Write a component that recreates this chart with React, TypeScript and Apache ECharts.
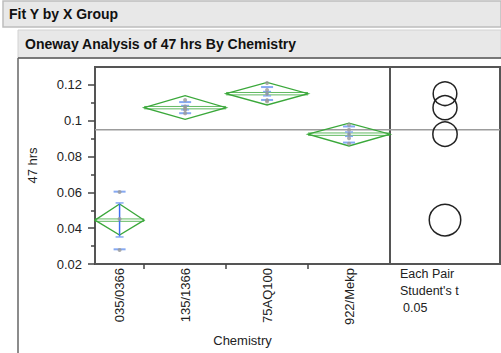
import React, { useEffect, useRef } from 'react';
import * as echarts from 'echarts';

// ---- data ----
const categories = ['035/0366', '135/1366', '75AQ100', '922/Mekp'];
const groupCounts = [3, 5, 5, 5];
const means = [0.0445, 0.1073, 0.1151, 0.0925];
const ciLower = [0.0362, 0.1008, 0.1088, 0.0859];
const ciUpper = [0.0535, 0.1140, 0.1214, 0.0986];
const seLower = [0.0351, 0.1061, 0.1139, 0.0913];
const seUpper = [0.0541, 0.1085, 0.1163, 0.0937];
const sdLower = [0.0282, 0.1042, 0.1116, 0.0878];
const sdUpper = [0.0604, 0.1104, 0.1188, 0.0968];
const points = [
  [0.0602, 0.0451, 0.0278],
  [0.1116, 0.108, 0.1068, 0.106, 0.1041],
  [0.1211, 0.1172, 0.115, 0.1115, 0.1107],
  [0.0977, 0.095, 0.0925, 0.0902, 0.0871],
];
const circleRadii = [0.0088, 0.0067, 0.0066, 0.0068];
const grandMean = 0.095;
const yTicks = [0.02, 0.04, 0.06, 0.08, 0.1, 0.12];
const yMinorTicks = [0.03, 0.05, 0.07, 0.09, 0.11];
const yMin = 0.02;
const yMax = 0.13;

const FONT = '"Liberation Sans", Arial, sans-serif';
const GREEN = '#3aa83a';

export default function App() {
  const ref = useRef<HTMLDivElement>(null);

  useEffect(() => {
    if (!ref.current) return;
    const chart = echarts.init(ref.current, undefined, { renderer: 'svg' });

    // category boundaries on a sample-count scale
    const bounds: number[] = [0];
    groupCounts.forEach((n) => bounds.push(bounds[bounds.length - 1] + n));
    const total = bounds[bounds.length - 1];
    const centers = categories.map((_, i) => (bounds[i] + bounds[i + 1]) / 2);
    const innerBounds = bounds.slice(1, -1);

    const diamondData = categories.map((_, i) => [bounds[i], bounds[i + 1], means[i], ciLower[i], ciUpper[i]]);
    const barData = categories.map((_, i) => [centers[i], seLower[i], seUpper[i], sdLower[i], sdUpper[i]]);
    const pointData: number[][] = [];
    points.forEach((arr, i) => arr.forEach((v) => pointData.push([centers[i], v])));
    const circleData = categories.map((_, i) => [0.5, means[i], circleRadii[i]]);

    const option: any = {
      animation: false,
      textStyle: { fontFamily: FONT },
      grid: [
        { left: 95, top: 67, right: 111, bottom: 89, show: true, borderColor: '#555', borderWidth: 2, backgroundColor: 'transparent' },
        { left: 390, top: 67, right: 1, bottom: 89, show: true, borderColor: '#555', borderWidth: 2, backgroundColor: 'transparent' },
      ],
      xAxis: [
        {
          type: 'value', gridIndex: 0, min: 0, max: total,
          name: 'Chemistry', nameLocation: 'middle', nameGap: 70,
          nameTextStyle: { fontSize: 13, color: '#222', fontFamily: FONT },
          splitLine: { show: false },
          axisLine: { show: true, lineStyle: { color: '#555', width: 2 } },
          axisTick: { show: true, customValues: innerBounds, length: 5, lineStyle: { color: '#444', width: 1.5 } },
          axisLabel: {
            customValues: centers, rotate: 90, margin: 4, fontSize: 13, color: '#222', fontFamily: FONT,
            formatter: (v: number) => {
              const idx = centers.findIndex((c) => Math.abs(c - v) < 1e-6);
              return idx >= 0 ? categories[idx] : '';
            },
          },
        },
        {
          type: 'value', gridIndex: 1, min: 0, max: 1, show: false,
        },
      ],
      yAxis: [
        {
          type: 'value', gridIndex: 0, min: yMin, max: yMax, position: 'left',
          name: '47 hrs', nameLocation: 'middle', nameGap: 56,
          nameTextStyle: { fontSize: 13, color: '#222', fontFamily: FONT },
          splitLine: { show: false },
          axisLine: { show: true, lineStyle: { color: '#555', width: 2 } },
          axisTick: { show: true, customValues: yTicks, length: 7, lineStyle: { color: '#444', width: 1.5 } },
          axisLabel: { customValues: yTicks, margin: 13, fontSize: 13, color: '#222', fontFamily: FONT },
        },
        {
          type: 'value', gridIndex: 0, min: yMin, max: yMax, position: 'left', offset: 0,
          splitLine: { show: false },
          axisLine: { show: false },
          axisTick: { show: true, customValues: yMinorTicks, length: 4, lineStyle: { color: '#444', width: 1.5 } },
          axisLabel: { show: false },
        },
        {
          type: 'value', gridIndex: 1, min: yMin, max: yMax, show: false,
        },
      ],
      series: [
        {
          type: 'line', xAxisIndex: 0, yAxisIndex: 0, symbol: 'none', silent: true,
          data: [[0, grandMean], [total, grandMean]],
          lineStyle: { color: '#9c9c9c', width: 1.5 }, z: 1,
        },
        {
          type: 'line', xAxisIndex: 1, yAxisIndex: 2, symbol: 'none', silent: true,
          data: [[0, grandMean], [1, grandMean]],
          lineStyle: { color: '#9c9c9c', width: 1.5 }, z: 1,
        },
        {
          type: 'custom', xAxisIndex: 0, yAxisIndex: 0, clip: false, z: 3,
          data: diamondData,
          encode: { x: [0, 1], y: [2, 3, 4] },
          renderItem: (_p: any, api: any) => {
            const x0 = api.value(0), x1 = api.value(1), m = api.value(2), lo = api.value(3), hi = api.value(4);
            const xc = (x0 + x1) / 2;
            const pL = api.coord([x0, m]);
            const pR = api.coord([x1, m]);
            const pT = api.coord([xc, hi]);
            const pB = api.coord([xc, lo]);
            return {
              type: 'group',
              children: [
                { type: 'polygon', shape: { points: [pL, pT, pR, pB] }, style: { fill: 'none', stroke: GREEN, lineWidth: 1.3 } },
                { type: 'line', shape: { x1: pL[0], y1: pL[1] - 1.2, x2: pR[0], y2: pR[1] - 1.2 }, style: { stroke: GREEN, lineWidth: 1, opacity: 0.8 } },
                { type: 'line', shape: { x1: pL[0], y1: pL[1] + 1.2, x2: pR[0], y2: pR[1] + 1.2 }, style: { stroke: GREEN, lineWidth: 1, opacity: 0.8 } },
              ],
            };
          },
        },
        {
          type: 'custom', xAxisIndex: 0, yAxisIndex: 0, clip: false, z: 4,
          data: barData,
          encode: { x: 0, y: [1, 2, 3, 4] },
          renderItem: (_p: any, api: any) => {
            const c = api.value(0);
            const sLo = api.coord([c, api.value(1)]);
            const sHi = api.coord([c, api.value(2)]);
            const dLo = api.coord([c, api.value(3)]);
            const dHi = api.coord([c, api.value(4)]);
            const blue = '#3f6ff0';
            const light = '#86a9f2';
            return {
              type: 'group',
              children: [
                { type: 'line', shape: { x1: sLo[0], y1: sLo[1], x2: sHi[0], y2: sHi[1] }, style: { stroke: blue, lineWidth: 1.5 } },
                { type: 'line', shape: { x1: sLo[0] - 4, y1: sLo[1], x2: sLo[0] + 4, y2: sLo[1] }, style: { stroke: light, lineWidth: 1.5 } },
                { type: 'line', shape: { x1: sHi[0] - 4, y1: sHi[1], x2: sHi[0] + 4, y2: sHi[1] }, style: { stroke: light, lineWidth: 1.5 } },
                { type: 'line', shape: { x1: dLo[0] - 6, y1: dLo[1], x2: dLo[0] + 6, y2: dLo[1] }, style: { stroke: light, lineWidth: 2 } },
                { type: 'line', shape: { x1: dHi[0] - 6, y1: dHi[1], x2: dHi[0] + 6, y2: dHi[1] }, style: { stroke: light, lineWidth: 2 } },
              ],
            };
          },
        },
        {
          type: 'scatter', xAxisIndex: 0, yAxisIndex: 0, z: 5, silent: true,
          data: pointData, symbol: 'circle', symbolSize: 4,
          itemStyle: { color: '#9a9a9a' },
        },
        {
          type: 'custom', xAxisIndex: 1, yAxisIndex: 2, clip: false, z: 3,
          data: circleData,
          encode: { x: 0, y: 1 },
          renderItem: (_p: any, api: any) => {
            const ctr = api.coord([api.value(0), api.value(1)]);
            const r = api.size([0, api.value(2)])[1];
            return {
              type: 'circle',
              shape: { cx: ctr[0], cy: ctr[1], r },
              style: { fill: 'none', stroke: '#222', lineWidth: 1.5 },
            };
          },
        },
      ],
      graphic: [
        { type: 'rect', shape: { x: 3, y: 1, width: 498, height: 26 }, style: { fill: '#e8e8e8', stroke: '#bdbdbd', lineWidth: 1.5 }, z: 0 },
        { type: 'text', x: 9, y: 14, style: { text: 'Fit Y by X Group', font: `bold 14px ${FONT}`, fill: '#111', verticalAlign: 'middle' } },
        { type: 'rect', shape: { x: 18, y: 30, width: 483, height: 28 }, style: { fill: '#e8e8e8', stroke: '#d2d2d2', lineWidth: 1 }, z: 0 },
        { type: 'line', shape: { x1: 18, y1: 58, x2: 501, y2: 58 }, style: { stroke: '#555', lineWidth: 1.5 } },
        { type: 'line', shape: { x1: 18, y1: 58, x2: 18, y2: 353 }, style: { stroke: '#666', lineWidth: 1.5 } },
        { type: 'text', x: 25, y: 44, style: { text: 'Oneway Analysis of 47 hrs By Chemistry', font: `bold 14px ${FONT}`, fill: '#111', verticalAlign: 'middle' } },
        { type: 'text', x: 400, y: 274, style: { text: 'Each Pair', font: `12.5px ${FONT}`, fill: '#222', verticalAlign: 'middle' } },
        { type: 'text', x: 400, y: 291, style: { text: "Student's t", font: `12.5px ${FONT}`, fill: '#222', verticalAlign: 'middle' } },
        { type: 'text', x: 403, y: 308, style: { text: '0.05', font: `12.5px ${FONT}`, fill: '#222', verticalAlign: 'middle' } },
      ],
    };

    chart.setOption(option);
    return () => chart.dispose();
  }, []);

  return (
    <div
      ref={ref}
      style={{ position: 'fixed', left: 0, top: 0, width: 501, height: 353, background: '#fff' }}
    />
  );
}
